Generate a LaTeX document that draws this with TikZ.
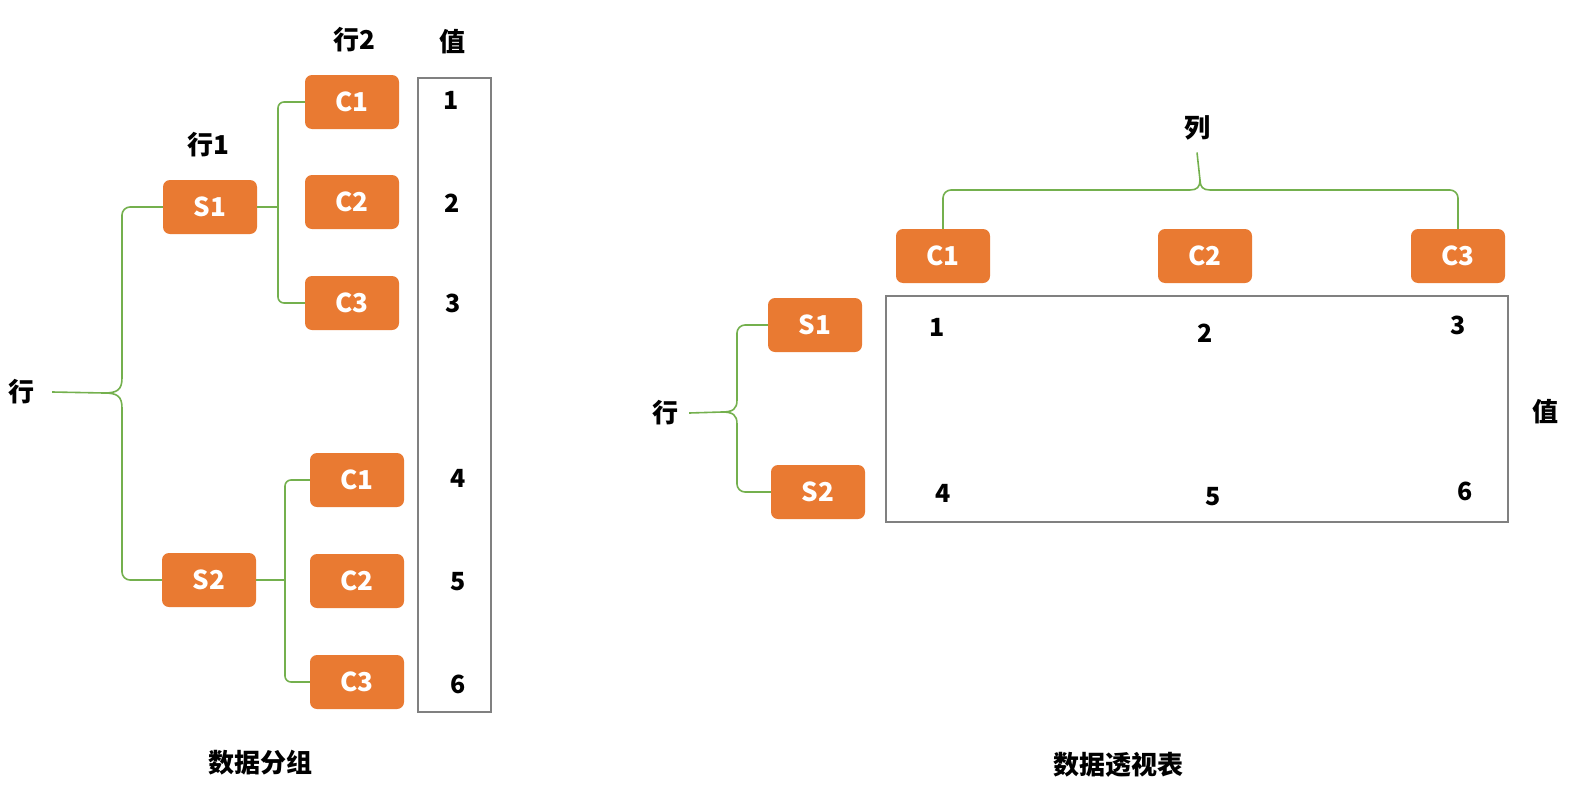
\documentclass[tikz,border=0pt]{standalone}
\usepackage{fontspec}
\setmainfont{Noto Sans CJK SC}
\definecolor{orng}{HTML}{E97A32}
\definecolor{grn}{HTML}{74B04E}
\definecolor{gry}{HTML}{808080}
\tikzset{
  ob/.style={fill=orng, rounded corners=7pt, minimum width=94pt, minimum height=54pt,
    text=white, font=\fontsize{26}{26}\selectfont\bfseries, inner sep=0pt},
  gl/.style={draw=grn, line width=1.6pt},
  lbl/.style={font=\fontsize{26}{26}\selectfont\bfseries, inner sep=0pt},
  num/.style={font=\fontsize{25}{25}\selectfont\bfseries, inner sep=0pt},
  captxt/.style={font=\fontsize{26}{26}\selectfont\bfseries, inner sep=0pt},
  valbox/.style={draw=gry, line width=1.5pt, inner sep=0pt}
}
\begin{document}
\begin{tikzpicture}[x=1pt,y=-1pt]
\useasboundingbox (0,0) rectangle (1572,798);
% ---------- left: data grouping ----------
\node[lbl] (hang) at (22,392) {行};
\node[lbl] (hang1) at (208,145) {行1};
\node[lbl] (hang2h) at (354,40) {行2};
\node[lbl] (zhi) at (452,42) {值};
\node[ob] (S1) at (210,207) {S1};
\node[ob] (S2) at (209,580) {S2};
\node[ob] (C1a) at (352,102) {C1};
\node[ob] (C2a) at (352,202) {C2};
\node[ob] (C3a) at (352,303) {C3};
\node[ob] (C1b) at (357,480) {C1};
\node[ob] (C2b) at (357,581) {C2};
\node[ob] (C3b) at (357,682) {C3};
\node[valbox, minimum width=73pt, minimum height=634pt] (vb) at (454.5,395) {};
\node[num] (n1) at (451,100) {1};
\node[num] (n2) at (452,203) {2};
\node[num] (n3) at (453,303) {3};
\node[num] (n4) at (458,478) {4};
\node[num] (n5) at (458,582) {5};
\node[num] (n6) at (458,684) {6};
\node[captxt] (capL) at (260,763) {数据分组};
% connectors left
\coordinate (hb) at (104,393);
\draw[gl] ([xshift=17pt]hang.east) -- (hb);
\draw[gl] (hb) .. controls (117,393) and (122,390) .. (122,378) [rounded corners=8pt] |- (S1.west);
\draw[gl] (hb) .. controls (117,393) and (122,396) .. (122,408) [rounded corners=8pt] |- (S2.west);
\coordinate (j1) at (278,207);
\draw[gl] (S1.east) -- (j1);
\draw[gl, rounded corners=6pt] (j1) |- (C1a.west);
\draw[gl, rounded corners=6pt] (j1) |- (C3a.west);
\coordinate (j2) at (285,580);
\draw[gl] (S2.east) -- (j2);
\draw[gl, rounded corners=6pt] (j2) |- (C1b.west);
\draw[gl, rounded corners=6pt] (j2) |- (C3b.west);
% ---------- right: pivot table ----------
\node[lbl] (lie) at (1197,128) {列};
\node[ob] (C1r) at (943,256) {C1};
\node[ob] (C2r) at (1205,256) {C2};
\node[ob] (C3r) at (1458,256) {C3};
\node[lbl] (hangR) at (665,413) {行};
\node[ob] (S1r) at (815,325) {S1};
\node[ob] (S2r) at (818,492) {S2};
\node[valbox, minimum width=622pt, minimum height=226pt] (tb) at (1197,409) {};
\node[num] (m1) at (937,327) {1};
\node[num] (m2) at (1205,333) {2};
\node[num] (m3) at (1458,325) {3};
\node[num] (m4) at (943,493) {4};
\node[num] (m5) at (1213,497) {5};
\node[num] (m6) at (1465,491) {6};
\node[lbl] (zhiR) at (1545,412) {值};
\node[captxt] (capR) at (1118,765) {数据透视表};
% connectors right
\coordinate (hb2) at (722,412);
\draw[gl] ([xshift=11pt]hangR.east) -- (hb2);
\draw[gl] (hb2) .. controls (733,412) and (737,409) .. (737,400) [rounded corners=8pt] |- (S1r.west);
\draw[gl] (hb2) .. controls (733,412) and (737,415) .. (737,424) [rounded corners=8pt] |- (S2r.west);
\coordinate (tc) at (1200,180);
\draw[gl] ([yshift=-12pt]lie.south) -- (tc);
\draw[gl] (tc) .. controls (1200,187) and (1197,190) .. (1190,190) [rounded corners=8pt] -| (C1r.north);
\draw[gl] (tc) .. controls (1200,187) and (1203,190) .. (1210,190) [rounded corners=8pt] -| (C3r.north);
\end{tikzpicture}
\end{document}
